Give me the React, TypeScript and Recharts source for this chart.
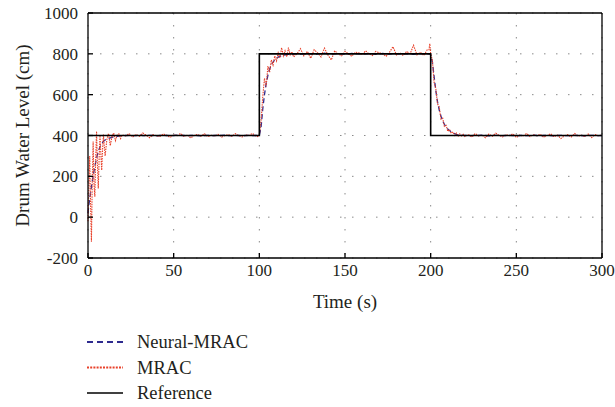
import React from 'react';
import { LineChart, Line, XAxis, YAxis, CartesianGrid, Label } from 'recharts';

// time samples (s) shared by Neural-MRAC and MRAC
const timeS = [
  0, 0.5, 1, 1.5, 2, 2.5, 3, 3.5, 4, 4.5, 5, 5.5, 6, 6.5, 7, 7.5, 8, 8.5, 9, 9.5, 10,
  11, 12, 13, 14, 15, 16, 17, 18, 19, 20,
  22, 24, 26, 28, 30, 32, 34, 36, 38, 40, 42, 44, 46, 48, 50, 52, 54, 56, 58, 60,
  62, 64, 66, 68, 70, 72, 74, 76, 78, 80, 82, 84, 86, 88, 90, 92, 94, 96, 98,
  99, 100, 101, 102, 103, 104, 105, 106, 107, 108, 109, 110, 111, 112, 113, 114, 115, 116, 117, 118, 119, 120,
  122, 124, 126, 128, 130, 132, 134, 136, 138, 140, 142, 144, 146, 148, 150, 152, 154, 156, 158, 160,
  162, 164, 166, 168, 170, 172, 174, 176, 178, 180, 182, 184, 186, 188, 190, 192, 194, 196, 198,
  199, 199.5, 200, 201, 202, 203, 204, 205, 206, 207, 208, 209, 210, 211, 212, 213, 214, 215, 216, 217, 218, 219, 220,
  222, 224, 226, 228, 230, 232, 234, 236, 238, 240, 242, 244, 246, 248, 250, 252, 254, 256, 258, 260,
  262, 264, 266, 268, 270, 272, 274, 276, 278, 280, 282, 284, 286, 288, 290, 292, 294, 296, 298, 300,
];

const neuralLevel = [
  20, 60, 90, 120, 150, 175, 200, 225, 250, 270, 290, 305, 320, 333, 345, 353, 360, 366, 371, 375, 378,
  381, 385, 388, 391, 393, 395, 396, 397, 398, 399,
  400, 401, 399, 400, 402, 400, 399, 401, 400, 398, 400, 401, 400, 399, 400, 402, 401, 400, 399, 400,
  401, 400, 398, 400, 401, 399, 400, 401, 400, 402, 400, 399, 401, 400, 399, 400, 401, 400, 400,
  400, 400, 440, 530, 600, 655, 695, 725, 745, 760, 770, 778, 784, 788, 791, 793, 795, 796, 797, 798, 799, 799,
  801, 799, 800, 802, 800, 798, 800, 801, 803, 800, 799, 800, 801, 800, 798, 800, 802, 801, 800, 799,
  800, 801, 800, 798, 800, 802, 800, 799, 801, 800, 800, 799, 801, 800, 798, 800, 801, 800, 800,
  800, 800, 795, 760, 690, 620, 565, 525, 495, 472, 455, 442, 432, 424, 418, 413, 409, 406, 404, 403, 402, 401, 400,
  400, 399, 401, 400, 402, 400, 398, 400, 401, 400, 399, 400, 401, 400, 398, 400, 401, 399, 400, 402,
  400, 399, 400, 401, 400, 398, 400, 401, 400, 399, 400, 401, 400, 400, 398, 400, 401, 400, 399, 400,
];

const mracLevel = [
  -20, 150, 300, 60, -120, 180, 370, 160, 100, 290, 420, 260, 140, 290, 400, 310, 230, 330, 405, 350, 300,
  380, 410, 350, 395, 412, 375, 402, 408, 385, 403,
  398, 410, 392, 405, 396, 412, 401, 389, 404, 398, 395, 408, 400, 391, 403, 399, 410, 396, 402, 388,
  400, 405, 397, 409, 394, 401, 398, 406, 392, 400, 404, 396, 409, 399, 393, 403, 400, 410, 398,
  395, 402, 470, 590, 680, 640, 740, 710, 770, 745, 790, 765, 805, 780, 830, 790, 815, 785, 830, 795, 810, 785,
  800, 825, 790, 812, 778, 820, 805, 785, 828, 795, 770, 815, 800, 790, 812, 800, 788, 808, 805, 795,
  815, 800, 792, 812, 805, 800, 788, 808, 835, 795, 805, 792, 812, 800, 842, 795, 808, 792, 820,
  820, 850, 800, 770, 660, 630, 555, 540, 480, 485, 445, 450, 420, 430, 410, 418, 400, 412, 395, 408, 398, 406, 395,
  405, 392, 410, 398, 402, 389, 407, 396, 411, 400, 393, 404, 399, 408, 390, 402, 397, 410, 395, 403,
  399, 406, 391, 400, 409, 394, 402, 385, 398, 404, 392, 410, 397, 401, 395, 407, 390, 404, 399, 402,
];

const refTime = [0, 100, 100, 200, 200, 300];
const refLevel = [400, 400, 800, 800, 400, 400];

const xTicks = [0, 50, 100, 150, 200, 250, 300];
const yTicks = [-200, 0, 200, 400, 600, 800, 1000];

const seriesData = timeS.map((t, i) => ({ t, neural: neuralLevel[i], mrac: mracLevel[i] }));
const refData = refTime.map((t, i) => ({ t, ref: refLevel[i] }));

const FONT = '"Liberation Serif", "Times New Roman", serif';
const TXT = '#231f20';
const tickStyle = { fontFamily: FONT, fontSize: 17, fill: TXT };
const labelStyle = { fontFamily: FONT, fontSize: 19, fill: TXT };

const legendItems = [
  { name: 'Neural-MRAC', color: '#2e2b8f', dash: '6 4' },
  { name: 'MRAC', color: '#e8412a', dash: '2 1.2' },
  { name: 'Reference', color: '#000000', dash: undefined },
];

export default function App() {
  return (
    <div style={{ position: 'absolute', left: 0, top: 0, width: 615, height: 407, background: '#fff' }}>
      <LineChart width={615} height={407} margin={{ top: 12, right: 12, left: 0, bottom: 99 }}>
        <CartesianGrid xAxisId="b" yAxisId="l" stroke="#8a8a8a" strokeDasharray="1.5 10.5" strokeWidth={1} />
        <XAxis
          xAxisId="b"
          dataKey="t"
          type="number"
          domain={[0, 300]}
          ticks={xTicks}
          height={50}
          tickSize={-5}
          tickMargin={11}
          tick={tickStyle}
          stroke="#000"
          strokeWidth={1.3}
          allowDuplicatedCategory
        >
          <Label value="Time (s)" position="insideBottom" offset={0} style={labelStyle} />
        </XAxis>
        <XAxis
          xAxisId="top"
          orientation="top"
          dataKey="t"
          type="number"
          domain={[0, 300]}
          ticks={xTicks}
          height={1}
          tickSize={-5}
          tick={false}
          stroke="#000"
          strokeWidth={1.3}
          allowDuplicatedCategory
        />
        <YAxis
          yAxisId="l"
          type="number"
          domain={[-200, 1000]}
          ticks={yTicks}
          width={88}
          tickSize={-5}
          tickMargin={15}
          tick={tickStyle}
          stroke="#000"
          strokeWidth={1.3}
        >
          <Label
            value="Drum Water Level (cm)"
            angle={-90}
            position="insideLeft"
            offset={22}
            style={{ ...labelStyle, textAnchor: 'middle' }}
          />
        </YAxis>
        <YAxis
          yAxisId="r"
          orientation="right"
          type="number"
          domain={[-200, 1000]}
          ticks={yTicks}
          width={1}
          tickSize={-5}
          tick={false}
          stroke="#000"
          strokeWidth={1.3}
        />
        <Line
          xAxisId="top"
          yAxisId="r"
          data={refData}
          dataKey="ref"
          type="linear"
          stroke="none"
          dot={false}
          legendType="none"
          isAnimationActive={false}
        />
        <Line
          xAxisId="b"
          yAxisId="l"
          data={seriesData}
          dataKey="neural"
          type="linear"
          stroke="#2e2b8f"
          strokeWidth={1.3}
          strokeDasharray="5 3"
          dot={false}
          isAnimationActive={false}
        />
        <Line
          xAxisId="b"
          yAxisId="l"
          data={seriesData}
          dataKey="mrac"
          type="linear"
          stroke="#e8412a"
          strokeWidth={1.1}
          strokeDasharray="1.5 1"
          dot={false}
          isAnimationActive={false}
        />
        <Line
          xAxisId="b"
          yAxisId="l"
          data={refData}
          dataKey="ref"
          type="linear"
          stroke="#000"
          strokeWidth={1.6}
          dot={false}
          isAnimationActive={false}
        />
      </LineChart>
      <svg
        width={300}
        height={90}
        style={{ position: 'absolute', left: 80, top: 320 }}
      >
        {legendItems.map((it, i) => {
          const cy = 22 + i * 25.5;
          return (
            <g key={it.name}>
              <line x1={7} x2={43} y1={cy} y2={cy} stroke={it.color} strokeWidth={it.dash ? 2 : 1.4} strokeDasharray={it.dash} />
              <text x={57} y={cy + 6} style={{ fontFamily: FONT, fontSize: 18.5, fill: TXT }}>
                {it.name}
              </text>
            </g>
          );
        })}
      </svg>
    </div>
  );
}
